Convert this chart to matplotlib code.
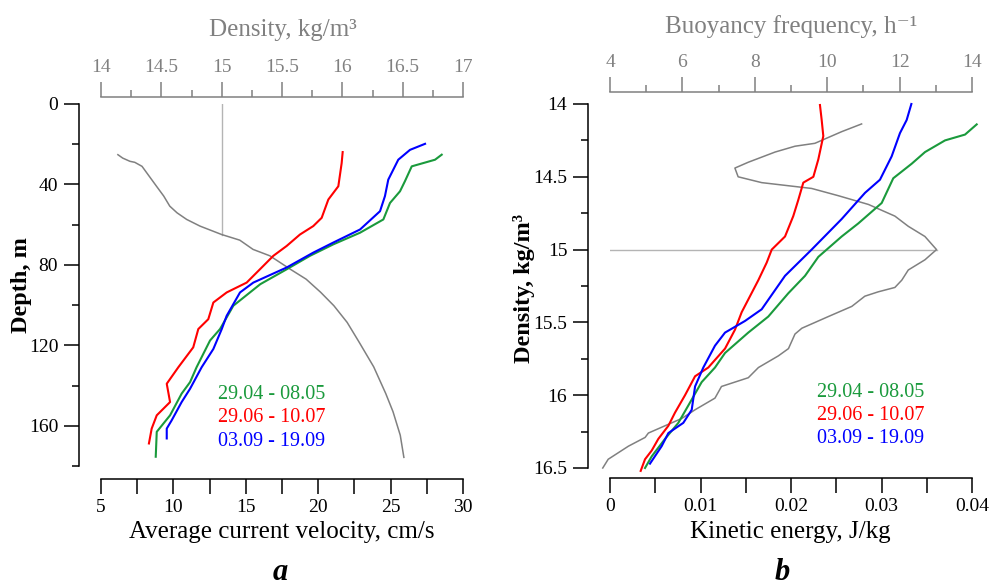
import matplotlib
matplotlib.use("Agg")
import matplotlib.pyplot as plt
from matplotlib.ticker import MultipleLocator

plt.rcParams['font.family'] = ['Liberation Serif', 'DejaVu Serif']

GREEN = '#1a9a3c'
RED = '#ff0000'
BLUE = '#0000ff'
GRAY = '#808080'
LGRAY = '#b4b4b4'

# ---------------- data: panel a ----------------
dens_rho = [14.14, 14.18, 14.24, 14.28, 14.34, 14.38, 14.46, 14.52, 14.57, 14.63, 14.71, 14.82, 15.0, 15.15, 15.26, 15.40, 15.57, 15.70, 15.82, 15.93, 16.04, 16.14, 16.26, 16.36, 16.42, 16.48, 16.51]
dens_depth = [25.2, 26.9, 28.5, 29.0, 31.0, 34.3, 40.9, 45.8, 50.8, 54.1, 57.4, 60.7, 64.9, 67.7, 72.3, 75.5, 82.2, 87.1, 93.6, 100.3, 108.6, 118.5, 130.7, 144.0, 153.0, 164.7, 175.7]

vel_red = [21.69, 21.62, 21.39, 20.70, 20.24, 19.66, 18.74, 17.82, 16.9, 16.21, 15.06, 13.68, 12.76, 12.41, 11.72, 11.37, 10.34, 9.54, 9.77, 8.85, 8.5, 8.31]
dep_red = [23.9, 29.4, 40.9, 47.5, 56.6, 60.7, 64.9, 70.6, 75.5, 80.5, 88.8, 93.7, 98.7, 107, 111.9, 121, 130.9, 139.1, 148.2, 154.8, 161.4, 168.8]

vel_green = [28.53, 28.07, 26.46, 25.99, 25.65, 24.96, 24.5, 22.89, 21.04, 19.43, 17.82, 16.0, 14.14, 13.22, 12.53, 11.6, 11.15, 10.57, 9.77, 8.85, 8.78]
dep_green = [25.2, 27.7, 31, 38.4, 43.4, 49.2, 57.4, 64, 69.8, 75.5, 82.2, 89.6, 100.3, 111.9, 117.6, 130.9, 138.3, 144, 154.8, 163, 175.4]

vel_blue = [27.38, 26.34, 25.53, 24.84, 24.61, 24.27, 22.89, 21.04, 19.66, 17.82, 15.52, 14.6, 13.68, 13.34, 12.76, 11.95, 11.15, 10.57, 9.88, 9.54, 9.54]
dep_blue = [19.8, 22.8, 27.7, 37.6, 45.8, 53.3, 62.4, 68.9, 73.9, 81.3, 88.8, 93.7, 105.3, 111.9, 121.8, 130.9, 141.6, 148.2, 157.3, 161.4, 166.3]

ref_density = 15.0
ref_depth_end = 64.9

# ---------------- data: panel b ----------------
buoy_N = [10.95, 10.4, 9.66, 9.11, 8.56, 7.82, 7.45, 7.54, 8.19, 9.57, 10.31, 11.14, 11.87, 12.24, 12.70, 13.02, 12.70, 12.24, 12.06, 11.87, 11.41, 11.04, 10.68, 10.03, 9.30, 9.11, 8.93, 8.65, 8.10, 7.82, 7.08, 6.90, 6.35, 5.98, 5.06, 4.97, 4.51, 3.95, 3.8]
buoy_rho = [14.137, 14.19, 14.27, 14.29, 14.33, 14.40, 14.44, 14.50, 14.54, 14.58, 14.63, 14.69, 14.77, 14.84, 14.91, 15.0, 15.07, 15.14, 15.21, 15.26, 15.29, 15.32, 15.39, 15.46, 15.54, 15.58, 15.68, 15.73, 15.81, 15.88, 15.94, 16.02, 16.10, 16.16, 16.26, 16.29, 16.35, 16.44, 16.50]

ke_red = [0.0232, 0.02339, 0.02357, 0.02302, 0.02247, 0.02136, 0.0208, 0.02025, 0.01934, 0.01787, 0.01731, 0.01639, 0.01455, 0.01381, 0.01271, 0.01086, 0.0094, 0.00829, 0.00718, 0.00645, 0.00534, 0.00461, 0.00387, 0.00339]
rho_red = [14.007, 14.11, 14.22, 14.38, 14.50, 14.54, 14.66, 14.77, 14.91, 15.0, 15.09, 15.21, 15.43, 15.55, 15.68, 15.81, 15.87, 16.0, 16.12, 16.21, 16.30, 16.38, 16.44, 16.52]

ke_blue = [0.0333, 0.03278, 0.03204, 0.03112, 0.02983, 0.02818, 0.0256, 0.02228, 0.01934, 0.01676, 0.01492, 0.01271, 0.0116, 0.01031, 0.0094, 0.00903, 0.0081, 0.00645, 0.00571, 0.00442]
rho_blue = [14.0, 14.11, 14.20, 14.36, 14.52, 14.61, 14.79, 15.0, 15.18, 15.41, 15.49, 15.57, 15.66, 15.81, 15.94, 16.10, 16.19, 16.26, 16.35, 16.47]

ke_green = [0.04052, 0.03923, 0.03702, 0.03481, 0.03334, 0.0313, 0.03002, 0.02744, 0.0256, 0.02302, 0.02155, 0.0197, 0.01749, 0.01528, 0.01271, 0.0116, 0.01013, 0.00866, 0.00755, 0.00608, 0.00461, 0.00387]
rho_green = [14.14, 14.21, 14.25, 14.33, 14.41, 14.51, 14.68, 14.82, 14.91, 15.05, 15.18, 15.30, 15.46, 15.57, 15.71, 15.81, 15.91, 16.07, 16.19, 16.30, 16.42, 16.50]

ref_rho = 15.0
ref_N_end = 13.02

periods = ['29.04 - 08.05', '29.06 - 10.07', '03.09 - 19.09']
period_colors = [GREEN, RED, BLUE]

# ---------------- figure ----------------
W, H = 990, 588
fig = plt.figure(figsize=(W / 100, H / 100), dpi=100)


def fx(px):
    return px / W


def fy(py):
    return 1 - py / H


TICK_FS = 14
LABEL_FS = 18
MAJ_LEN = 10.8
MIN_LEN = 5.4
LW_AX = 1.1


def style_axes(ax, axt, left_out, bottom_out, top_out):
    for s in ['top', 'right']:
        ax.spines[s].set_visible(False)
    ax.spines['left'].set_position(('outward', left_out))
    ax.spines['bottom'].set_position(('outward', bottom_out))
    for s in ['left', 'bottom']:
        ax.spines[s].set_linewidth(LW_AX)
    ax.tick_params(axis='both', which='both', direction='out', width=LW_AX,
                   labelsize=TICK_FS, colors='black')
    ax.tick_params(axis='both', which='major', length=MAJ_LEN, pad=4)
    ax.tick_params(axis='y', which='minor', length=MIN_LEN)
    ax.tick_params(axis='x', which='minor', length=MAJ_LEN)
    for s in ['left', 'right', 'bottom']:
        axt.spines[s].set_visible(False)
    axt.spines['top'].set_position(('outward', top_out))
    axt.spines['top'].set_color(GRAY)
    axt.spines['top'].set_linewidth(LW_AX)
    axt.tick_params(axis='x', which='both', direction='out', width=LW_AX,
                    color=GRAY, labelcolor=GRAY, labelsize=TICK_FS, pad=4)
    axt.tick_params(axis='x', which='major', length=MAJ_LEN)
    axt.tick_params(axis='x', which='minor', length=MIN_LEN)
    ax.patch.set_visible(False)


# ---- panel a ----
ax1 = fig.add_axes([fx(101), fy(466), fx(463) - fx(101), fy(104) - fy(466)])
ax1t = ax1.twiny()
ax1.set_zorder(2)
ax1t.set_zorder(1)
ax1.set_xlim(5, 30)
ax1.set_ylim(180, 0)
ax1t.set_xlim(14, 17)
ax1.xaxis.set_major_locator(MultipleLocator(5))
ax1.xaxis.set_minor_locator(MultipleLocator(2.5))
ax1.yaxis.set_major_locator(MultipleLocator(40))
ax1.yaxis.set_minor_locator(MultipleLocator(20))
ax1t.xaxis.set_major_locator(MultipleLocator(0.5))
ax1t.xaxis.set_minor_locator(MultipleLocator(0.25))
ax1t.xaxis.set_major_formatter(plt.FuncFormatter(lambda v, p: f'{v:g}'))
style_axes(ax1, ax1t, 16, 9, 5)

ax1t.plot([ref_density, ref_density], [0, ref_depth_end], color=LGRAY, lw=1.0)
ax1t.plot(dens_rho, dens_depth, color=GRAY, lw=1.1)
ax1.plot(vel_green, dep_green, color=GREEN, lw=1.5)
ax1.plot(vel_red, dep_red, color=RED, lw=1.5)
ax1.plot(vel_blue, dep_blue, color=BLUE, lw=1.5)

# ---- panel b ----
ax2 = fig.add_axes([fx(610), fy(468), fx(972) - fx(610), fy(104) - fy(468)])
ax2t = ax2.twiny()
ax2.set_zorder(2)
ax2t.set_zorder(1)
ax2.set_xlim(0, 0.04)
ax2.set_ylim(16.5, 14)
ax2t.set_xlim(4, 14)
ax2.xaxis.set_major_locator(MultipleLocator(0.01))
ax2.xaxis.set_minor_locator(MultipleLocator(0.005))
ax2.xaxis.set_major_formatter(plt.FuncFormatter(lambda v, p: f'{v:g}'))
ax2.yaxis.set_major_locator(MultipleLocator(0.5))
ax2.yaxis.set_minor_locator(MultipleLocator(0.25))
ax2.yaxis.set_major_formatter(plt.FuncFormatter(lambda v, p: f'{v:g}'))
ax2t.xaxis.set_major_locator(MultipleLocator(2))
ax2t.xaxis.set_minor_locator(MultipleLocator(1))
style_axes(ax2, ax2t, 16, 7, 9)

ax2t.plot([4, ref_N_end], [ref_rho, ref_rho], color=LGRAY, lw=1.0)
ax2t.plot(buoy_N, buoy_rho, color=GRAY, lw=1.1, clip_on=False)
ax2.plot(ke_green, rho_green, color=GREEN, lw=1.5, clip_on=False)
ax2.plot(ke_red, rho_red, color=RED, lw=1.5, clip_on=False)
ax2.plot(ke_blue, rho_blue, color=BLUE, lw=1.5, clip_on=False)

# ---- legends (colored text) ----
for i, (txt, c) in enumerate(zip(periods, period_colors)):
    fig.text(fx(218), fy(399 + 23.5 * i), txt, color=c, fontsize=14.5, va='baseline', ha='left')
    fig.text(fx(817), fy(397 + 23 * i), txt, color=c, fontsize=14.5, va='baseline', ha='left')

# ---- axis labels ----
fig.text(fx(282), fy(538), 'Average current velocity, cm/s', fontsize=LABEL_FS, ha='center', va='baseline')
fig.text(fx(790), fy(538), 'Kinetic energy, J/kg', fontsize=LABEL_FS, ha='center', va='baseline')
fig.text(fx(283), fy(36), 'Density, kg/m\u00b3', fontsize=LABEL_FS, ha='center', va='baseline', color=GRAY)
fig.text(fx(791), fy(33), 'Buoyancy frequency, h\u207b\u00b9', fontsize=LABEL_FS, ha='center', va='baseline', color=GRAY)
fig.text(fx(22), fy(285), 'Depth, m', fontsize=17.5, ha='center', va='center', rotation=90, fontweight='bold')
fig.text(fx(524), fy(288), 'Density, kg/m\u00b3', fontsize=17.5, ha='center', va='center', rotation=90, fontweight='bold')

fig.text(fx(280), fy(580), 'a', fontsize=22, ha='center', va='baseline', fontweight='bold', fontstyle='italic')
fig.text(fx(782), fy(580), 'b', fontsize=22, ha='center', va='baseline', fontweight='bold', fontstyle='italic')

fig.savefig('out.png', dpi=100)
